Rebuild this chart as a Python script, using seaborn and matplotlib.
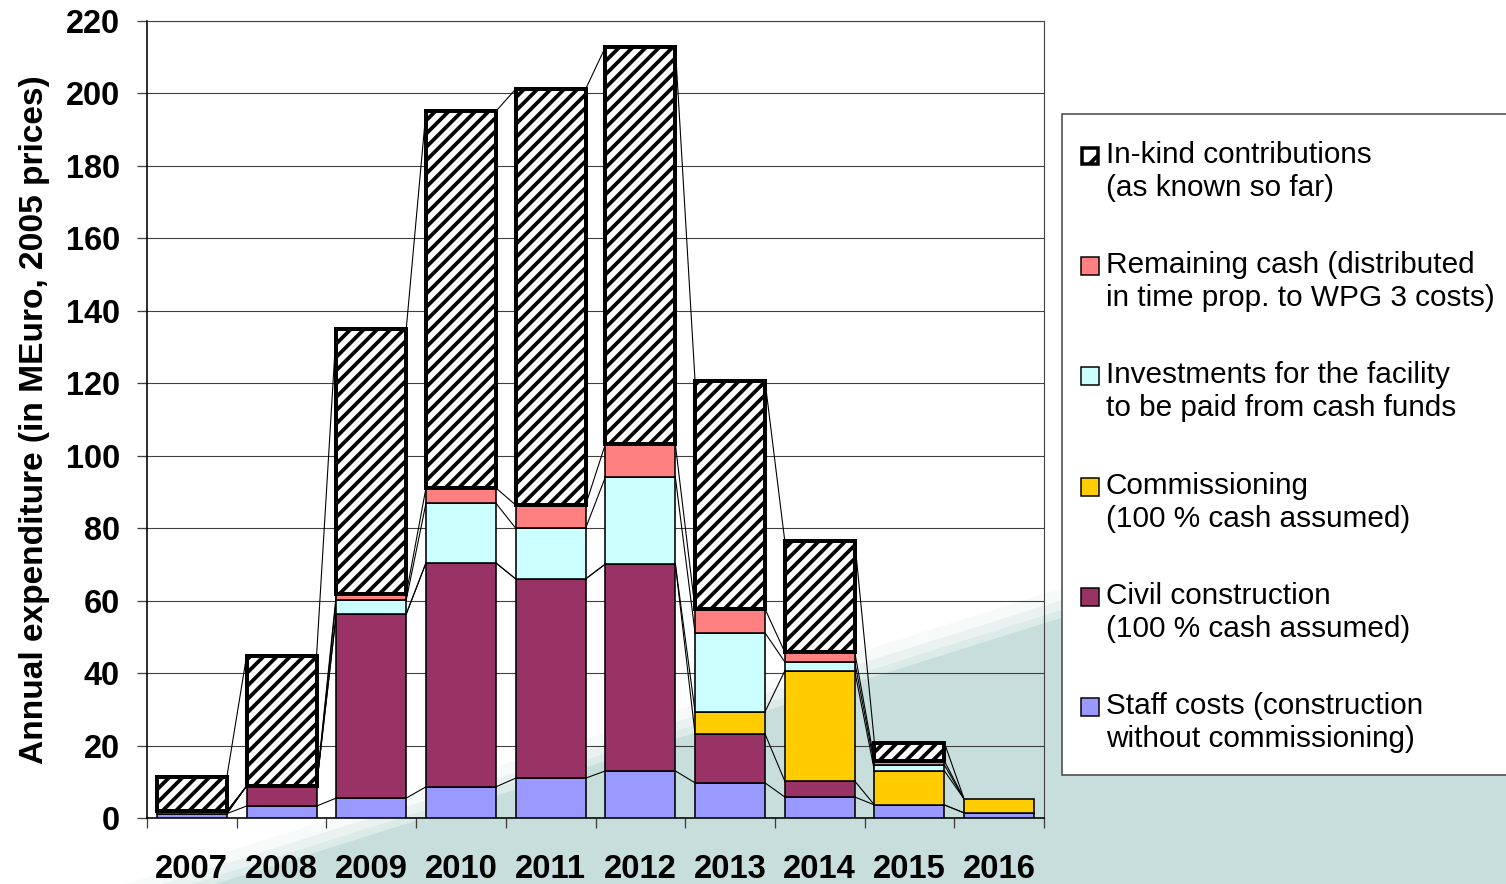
import numpy as np
import pandas as pd
import matplotlib
matplotlib.use('Agg')
import matplotlib.pyplot as plt
from matplotlib.patches import Polygon, Rectangle
import seaborn as sns

# data (MEuro, 2005 prices), segment heights
years = ['2007', '2008', '2009', '2010', '2011', '2012', '2013', '2014', '2015', '2016']
staff = [1.2, 3.3, 5.5, 8.6, 11.0, 13.0, 9.7, 5.8, 3.6, 1.4]
civil = [0.0, 5.5, 50.8, 61.8, 55.0, 57.1, 13.5, 4.4, 0.0, 0.0]
commissioning = [0.0, 0.0, 0.0, 0.0, 0.0, 0.0, 6.1, 30.4, 9.4, 3.8]
investments = [0.6, 0.0, 3.9, 16.5, 14.0, 24.0, 21.8, 2.5, 1.6, 0.0]
remaining = [0.0, 0.0, 1.6, 4.2, 6.4, 9.1, 6.6, 2.7, 1.1, 0.0]
inkind = [9.5, 35.9, 73.2, 104.0, 114.8, 109.6, 62.9, 30.7, 5.0, 0.0]

legend_lines = [
    ('In-kind contributions', '(as known so far)'),
    ('Remaining cash (distributed', 'in time prop. to WPG 3 costs)'),
    ('Investments for the facility', 'to be paid from cash funds'),
    ('Commissioning', '(100 % cash assumed)'),
    ('Civil construction', '(100 % cash assumed)'),
    ('Staff costs (construction', 'without commissioning)'),
]

DPI = 80
W, H = 1506, 884


def px(v):
    # pixels -> points at this dpi
    return v * 72 / DPI


plt.rcParams['font.family'] = ['Liberation Sans', 'DejaVu Sans']
plt.rcParams['hatch.linewidth'] = 3.4
plt.rcParams['hatch.color'] = 'black'

df = pd.DataFrame({'year': years, 'staff': staff, 'civil': civil,
                   'commissioning': commissioning, 'investments': investments,
                   'remaining': remaining, 'inkind': inkind})

fig = plt.figure(figsize=(W / DPI, H / DPI), dpi=DPI, facecolor='white')

# slide background wedge, on its own axes behind everything
bg = fig.add_axes([0, 0, 1, 1], zorder=-5)
bg.set_xlim(0, W)
bg.set_ylim(H, 0)
bg.axis('off')
teal = '#c8dedc'
x0, yr = 215, 478
for k, a in [(30, 0.15), (18, 0.25), (8, 0.4), (0, 1.0)]:
    bg.add_patch(Polygon([(x0 - k * 3, H), (W, yr - k), (W, H)], closed=True,
                         facecolor=teal, edgecolor='none', alpha=a))

ax = fig.add_axes([147 / W, 1 - 818 / H, (1044 - 147) / W, (818 - 21) / H], zorder=1)

bw = 0.78
layers = [
    ('staff', '#9999ff', None, 1.6),
    ('civil', '#993366', None, 1.6),
    ('commissioning', '#ffcc00', None, 1.6),
    ('investments', '#ccffff', None, 1.6),
    ('remaining', '#ff8080', None, 1.6),
    ('inkind', 'white', '//', 4.0),
]

bottom = np.zeros(len(years))
for name, color, hatch, lw in layers:
    vals = df[name].to_numpy()
    sns.barplot(data=df, x='year', y=name, bottom=bottom, color=color,
                saturation=1, width=bw, edgecolor='black', linewidth=px(lw),
                hatch=hatch, errorbar=None, ax=ax, zorder=3)
    for p, v in zip(ax.containers[-1], vals):
        if v == 0:
            p.set_visible(False)
    new = bottom + vals
    # Excel-style series lines between neighbouring bars
    for i in range(len(years) - 1):
        ax.plot([i + bw / 2, i + 1 - bw / 2], [new[i], new[i + 1]],
                color='black', lw=px(1.1), zorder=2)
    bottom = new

ax.set_xlim(-0.5, len(years) - 0.5)
ax.set_ylim(0, 220)
ax.set_yticks(range(0, 221, 20))
ax.set_xticks(range(len(years)))
ax.set_xticklabels(years, fontweight='bold', fontsize=px(32.8))
ax.set_xticks(np.arange(-0.5, len(years), 1), minor=True)
ax.tick_params(axis='x', which='major', length=0, pad=px(36))
ax.tick_params(axis='x', which='minor', length=px(10), width=px(1.3), color='#404040')
ax.tick_params(axis='y', length=px(10), width=px(1.3), color='#404040', pad=px(17),
               labelsize=px(32.5))
for lab in ax.get_yticklabels():
    lab.set_fontweight('bold')

ax.yaxis.grid(True, color='#404040', lw=px(1.1))
ax.set_axisbelow(True)
for s in ['left', 'bottom']:
    ax.spines[s].set_color('black')
    ax.spines[s].set_linewidth(px(1.6))
for s in ['top', 'right']:
    ax.spines[s].set_color('#404040')
    ax.spines[s].set_linewidth(px(1.1))

ax.set_xlabel('')
ax.set_ylabel('Annual expenditure (in MEuro, 2005 prices)', fontweight='bold',
              fontsize=px(33.5))
ax.yaxis.set_label_coords(-0.108, 0.5)

# let the background wedge show through the plot area
ax.set_facecolor((1, 1, 1, 0))
ax.patch.set_visible(False)

# legend box, drawn on the background axes (pixel coordinates)
lg = fig.add_axes([0, 0, 1, 1], zorder=2)
lg.set_xlim(0, W)
lg.set_ylim(H, 0)
lg.axis('off')
lg.add_patch(Rectangle((1062, 114), W + 10 - 1062, 775 - 114, facecolor='white',
                       edgecolor='#404040', lw=px(1.5), clip_on=False))
sw_colors = ['white', '#ff8080', '#ccffff', '#ffcc00', '#993366', '#9999ff']
for k, (l1, l2) in enumerate(legend_lines):
    y1 = 155 + 110.2 * k
    if k == 0:
        lg.add_patch(Rectangle((1082, y1 - 7), 16, 16, facecolor='white', hatch='/',
                               edgecolor='black', lw=px(3.5)))
    else:
        lg.add_patch(Rectangle((1081, y1 - 8), 18, 18, facecolor=sw_colors[k],
                               edgecolor='black', lw=px(1.5)))
    lg.text(1106, y1, l1, fontsize=px(29.7), va='center', ha='left')
    lg.text(1106, y1 + 33, l2, fontsize=px(29.7), va='center', ha='left')

fig.savefig('out.png', dpi=DPI, facecolor='white')
